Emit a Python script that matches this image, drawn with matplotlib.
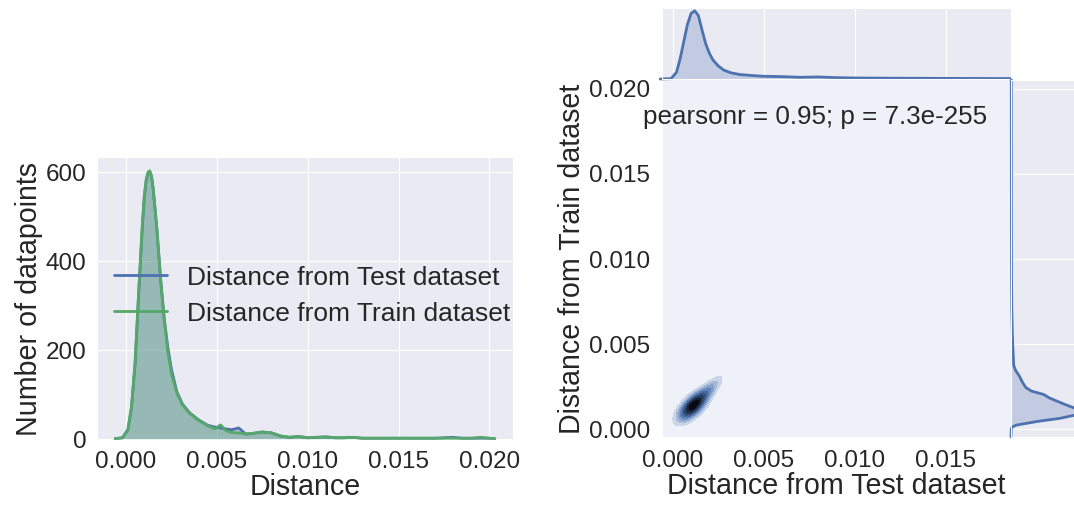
import colorsys

import matplotlib
matplotlib.use("Agg")
import matplotlib.pyplot as plt
import matplotlib.colors as mcolors
import numpy as np
import seaborn as sns

# ---- data ----
# left panel: KDE curves of distances (counts)
dist_x = [-0.0006, -0.0002, 0.0001, 0.0003, 0.0005, 0.0007, 0.0009, 0.0010,
          0.0011, 0.0012, 0.0013, 0.0014, 0.0015, 0.0017, 0.0019, 0.0021,
          0.0023, 0.0025, 0.0028, 0.0031, 0.0035, 0.0040, 0.0045, 0.0049,
          0.0052, 0.0055, 0.0058, 0.0062, 0.0066, 0.0070, 0.0075, 0.0080,
          0.0085, 0.0090, 0.0095, 0.0100, 0.0105, 0.0110, 0.0115, 0.0120,
          0.0125, 0.0130, 0.0140, 0.0150, 0.0160, 0.0170, 0.0180, 0.0185,
          0.0190, 0.0195, 0.0200, 0.0203]
test_counts = [0, 2, 20, 70, 170, 330, 480, 540, 578, 596, 600, 590, 560,
               470, 360, 270, 205, 155, 105, 78, 58, 42, 30, 26,
               24, 22, 20, 24, 10, 12, 15, 13,
               6, 3, 5, 2, 3, 4, 2, 2,
               3, 1, 1, 1, 1, 1, 3, 1,
               1, 1, 1, 0]
train_counts = [0, 2, 20, 72, 175, 335, 485, 545, 580, 598, 602, 590, 558,
                468, 358, 268, 195, 145, 102, 76, 57, 41, 29, 22,
                31, 18, 14, 13, 11, 12, 15, 13,
                6, 3, 5, 2, 3, 4, 2, 2,
                3, 1, 1, 1, 1, 1, 1, 1,
                1, 3, 1, 0]

# right panel: marginal densities (relative to peak)
top_x = [-0.0007, -0.0001, 0.0002, 0.0004, 0.0006, 0.0008, 0.0010, 0.0012,
         0.0014, 0.0016, 0.0018, 0.0020, 0.0022, 0.0025, 0.0028, 0.0032,
         0.0037, 0.0044, 0.0050, 0.0060, 0.0070, 0.0080, 0.0090, 0.0100,
         0.0120, 0.0140, 0.0160, 0.0186]
top_d = [0, 0.005, 0.1, 0.3, 0.55, 0.8, 0.96, 1.0,
         0.93, 0.72, 0.52, 0.38, 0.28, 0.19, 0.13, 0.09,
         0.065, 0.05, 0.04, 0.035, 0.025, 0.03, 0.02, 0.015,
         0.012, 0.01, 0.008, 0.007]
right_y = [-0.0005, 0.0000, 0.0001, 0.0002, 0.0004, 0.0006, 0.0008, 0.0010,
           0.0012, 0.0014, 0.0016, 0.0018, 0.0020, 0.0022, 0.0024, 0.0027,
           0.0031, 0.0034, 0.0037, 0.0045, 0.0055, 0.0070, 0.0090, 0.0120,
           0.0160, 0.0205]
right_d = [0, 0.004, 0.02, 0.08, 0.36, 0.72, 0.95, 1.0,
           0.93, 0.8, 0.68, 0.56, 0.48, 0.3, 0.22, 0.17,
           0.12, 0.07, 0.04, 0.03, 0.02, 0.012, 0.008, 0.006,
           0.005, 0.004]

# joint density blob: (weight, mean x, mean y, sd x, sd y, corr)
blob_parts = [(1.0, 0.0011, 0.00132, 0.00052, 0.00055, 0.66),
              (0.2, 0.0020, 0.0023, 0.00048, 0.00052, 0.8)]
pearson_text = "pearsonr = 0.95; p = 7.3e-255"

# ---- style ----
sns.set_style("darkgrid")
plt.rcParams['font.family'] = ['Liberation Sans', 'DejaVu Sans']
blue = "#4C72B0"
green = "#55A868"
W, H = 1074, 506


def px_rect(left, right, top, bottom):
    return [left / W, 1 - bottom / H, (right - left) / W, (bottom - top) / H]


fig = plt.figure(figsize=(W / 100, H / 100), dpi=100)

# ---- left panel ----
ax = fig.add_axes(px_rect(97, 513, 158, 441))
ax.plot(dist_x, test_counts, color=blue, lw=2, label="Distance from Test dataset")
ax.fill_between(dist_x, test_counts, color=blue, alpha=0.33, lw=0)
ax.plot(dist_x, train_counts, color=green, lw=2, label="Distance from Train dataset")
ax.fill_between(dist_x, train_counts, color=green, alpha=0.33, lw=0)
ax.set_xlim(-0.0016, 0.0213)
ax.set_ylim(-3, 633)
ax.set_xticks([0, 0.005, 0.01, 0.015, 0.02])
ax.set_yticks([0, 200, 400, 600])
ax.tick_params(labelsize=17.5, pad=4)
ax.set_xlabel("Distance", fontsize=20.6, labelpad=0)
ax.set_ylabel("Number of datapoints", fontsize=20.6, labelpad=2)
ax.legend(loc="upper left", bbox_to_anchor=(0.01, 0.665), frameon=False,
          fontsize=19, handlelength=2.0, handletextpad=0.75, borderpad=0,
          labelspacing=0.45)

# ---- right panel: joint kde ----
xlim = (-0.0006, 0.0186)
ylim = (-0.0005, 0.0205)
axj = fig.add_axes(px_rect(662, 1011, 80, 438))
axt = fig.add_axes(px_rect(662, 1011, 9, 80))
axr = fig.add_axes(px_rect(1011, 1082, 81, 438))

gx, gy = np.meshgrid(np.linspace(*xlim, 400), np.linspace(*ylim, 400))
dens = np.zeros_like(gx)
for w, mx, my, sx, sy, r in blob_parts:
    zx = (gx - mx) / sx
    zy = (gy - my) / sy
    q = (zx ** 2 - 2 * r * zx * zy + zy ** 2) / (1 - r ** 2)
    dens += w * np.exp(-0.5 * q) / (sx * sy * np.sqrt(1 - r ** 2))

h, l, s = colorsys.rgb_to_hls(*mcolors.to_rgb(blue))
cols = [colorsys.hls_to_rgb(h, li, s) for li in np.linspace(1.0, 0.0, 12)]
cmap = mcolors.LinearSegmentedColormap.from_list("blend", cols)
axj.contourf(gx, gy, dens, levels=np.linspace(0, dens.max(), 11), cmap=cmap)
axj.set_xlim(*xlim)
axj.set_ylim(*ylim)
axj.set_xticks([0, 0.005, 0.01, 0.015])
axj.set_yticks([0, 0.005, 0.01, 0.015, 0.02])
axj.tick_params(labelsize=17.5, pad=5)
axj.set_xlabel("Distance from Test dataset", fontsize=20.6, labelpad=0)
axj.set_ylabel("Distance from Train dataset", fontsize=20.6, labelpad=2)
axj.text(0.438, 0.897, pearson_text, transform=axj.transAxes, fontsize=18.7,
         color=".15", ha="center", va="center")

# top marginal
axt.plot(top_x, top_d, color=blue, lw=2, clip_on=False)
axt.fill_between(top_x, top_d, color=blue, alpha=0.25, lw=0)
axt.set_xlim(*xlim)
axt.set_ylim(0, 1.04)
axt.set_xticks([0, 0.005, 0.01, 0.015])
axt.set_yticks([])
axt.yaxis.grid(False)
axt.tick_params(labelbottom=False, labelleft=False)

# right marginal
axr.plot(right_d, right_y, color=blue, lw=2, clip_on=False)
axr.fill_betweenx(right_y, right_d, color=blue, alpha=0.25, lw=0)
axr.set_ylim(*ylim)
axr.set_xlim(0, 1.04)
axr.set_yticks([0, 0.005, 0.01, 0.015, 0.02])
axr.set_xticks([])
axr.xaxis.grid(False)
axr.tick_params(labelbottom=False, labelleft=False)

fig.savefig("out.png", dpi=100)
